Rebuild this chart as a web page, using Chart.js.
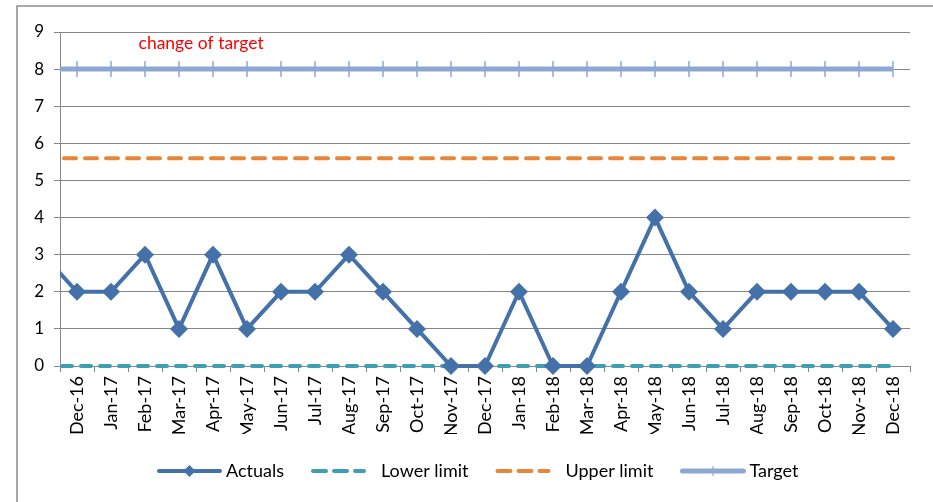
<!DOCTYPE html>
<html>
<head>
<meta charset="utf-8">
<script src="https://cdn.jsdelivr.net/npm/chart.js@4/dist/chart.umd.min.js"></script>
<style>
  html, body { margin: 0; padding: 0; background: #fff; }
  #wrap { width: 933px; height: 502px; position: relative; }
</style>
</head>
<body>
<div id="wrap"><canvas id="chart"></canvas></div>
<script>
// first label (Nov-16) sits just outside the plot, the line runs in from it
const labels = ['Nov-16', 'Dec-16', 'Jan-17', 'Feb-17', 'Mar-17', 'Apr-17', 'May-17', 'Jun-17', 'Jul-17',
  'Aug-17', 'Sep-17', 'Oct-17', 'Nov-17', 'Dec-17', 'Jan-18', 'Feb-18', 'Mar-18', 'Apr-18',
  'May-18', 'Jun-18', 'Jul-18', 'Aug-18', 'Sep-18', 'Oct-18', 'Nov-18', 'Dec-18'];
const actuals = [3, 2, 2, 3, 1, 3, 1, 2, 2, 3, 2, 1, 0, 0, 2, 0, 0, 2, 4, 2, 1, 2, 2, 2, 2, 1];
const lowerLimit = [0, 0, 0, 0, 0, 0, 0, 0, 0, 0, 0, 0, 0, 0, 0, 0, 0, 0, 0, 0, 0, 0, 0, 0, 0, 0];
const upperLimit = [5.6, 5.6, 5.6, 5.6, 5.6, 5.6, 5.6, 5.6, 5.6, 5.6, 5.6, 5.6, 5.6,
  5.6, 5.6, 5.6, 5.6, 5.6, 5.6, 5.6, 5.6, 5.6, 5.6, 5.6, 5.6, 5.6];
const target = [8, 8, 8, 8, 8, 8, 8, 8, 8, 8, 8, 8, 8, 8, 8, 8, 8, 8, 8, 8, 8, 8, 8, 8, 8, 8];
const yTicks = [0, 1, 2, 3, 4, 5, 6, 7, 8, 9];
const noteText = 'change of target';

const FONT = 'Lato, "Liberation Sans", sans-serif';
const GRID = '#868686';

const frame = {
  id: 'frame',
  afterDraw(chart) {
    const ctx = chart.ctx;
    ctx.save();
    ctx.strokeStyle = '#8c8c8c';
    ctx.lineWidth = 1.5;
    ctx.beginPath();
    ctx.moveTo(17, chart.height);
    ctx.lineTo(17, 6);
    ctx.lineTo(chart.width, 6);
    ctx.stroke();
    ctx.restore();
  }
};

const note = {
  id: 'note',
  afterDatasetsDraw(chart) {
    const ctx = chart.ctx;
    const x = chart.scales.x.getPixelForValue(4.65);
    const y = chart.scales.y.getPixelForValue(8.7);
    ctx.save();
    ctx.font = '17.5px ' + FONT;
    ctx.fillStyle = '#ff0000';
    ctx.textAlign = 'center';
    ctx.textBaseline = 'middle';
    ctx.fillText(noteText, x, y);
    ctx.restore();
  }
};

const bottomLegend = {
  id: 'bottomLegend',
  afterDraw(chart) {
    const ctx = chart.ctx;
    const y = 471;
    let x = 157;
    ctx.save();
    ctx.font = '18px ' + FONT;
    ctx.textBaseline = 'middle';
    chart.data.datasets.forEach(ds => {
      const dashed = !!ds.borderDash;
      const w = dashed ? 55 : 65;
      ctx.strokeStyle = ds.borderColor;
      ctx.lineWidth = ds.borderWidth;
      ctx.lineCap = 'round';
      ctx.setLineDash(dashed ? [13, 8] : []);
      ctx.beginPath();
      ctx.moveTo(x + 2, y);
      ctx.lineTo(x + w - 2, y);
      ctx.stroke();
      ctx.setLineDash([]);
      const cx = x + w / 2;
      if (ds.pointStyle === 'rectRot') {
        ctx.fillStyle = ds.borderColor;
        ctx.beginPath();
        ctx.moveTo(cx, y - 6);
        ctx.lineTo(cx + 6, y);
        ctx.lineTo(cx, y + 6);
        ctx.lineTo(cx - 6, y);
        ctx.closePath();
        ctx.fill();
      } else if (ds.pointStyle === 'line') {
        ctx.lineWidth = 1.2;
        ctx.lineCap = 'butt';
        ctx.beginPath();
        ctx.moveTo(cx, y - 5);
        ctx.lineTo(cx, y + 5);
        ctx.stroke();
      }
      ctx.fillStyle = '#000';
      ctx.textAlign = 'left';
      const tx = x + w + (dashed ? 15 : 4);
      ctx.fillText(ds.label, tx, y);
      x = tx + ctx.measureText(ds.label).width + 27;
    });
    ctx.restore();
  }
};

const leftClip = { left: 0, top: false, right: false, bottom: false };

new Chart(document.getElementById('chart'), {
  type: 'line',
  data: {
    labels: labels,
    datasets: [
      {
        label: 'Actuals',
        data: actuals,
        borderColor: '#4471A8',
        backgroundColor: '#4471A8',
        borderWidth: 4,
        pointStyle: 'rectRot',
        pointRadius: 9,
        pointBorderWidth: 0,
        tension: 0,
        clip: leftClip,
        order: 1
      },
      {
        label: 'Lower limit',
        data: lowerLimit,
        borderColor: '#3E9EB4',
        borderWidth: 4,
        borderDash: [10, 9],
        borderCapStyle: 'round',
        pointRadius: 0,
        clip: leftClip,
        order: 2
      },
      {
        label: 'Upper limit',
        data: upperLimit,
        borderColor: '#E6863B',
        borderWidth: 4,
        borderDash: [12, 9],
        borderCapStyle: 'round',
        pointRadius: 0,
        clip: leftClip,
        order: 3
      },
      {
        label: 'Target',
        data: target,
        borderColor: '#8EA8D4',
        backgroundColor: '#8EA8D4',
        borderWidth: 5,
        pointStyle: 'line',
        rotation: 90,
        pointRadius: 8,
        pointBorderWidth: 1.5,
        pointBorderColor: '#8EA8D4',
        clip: leftClip,
        order: 4
      }
    ]
  },
  options: {
    responsive: true,
    maintainAspectRatio: false,
    animation: false,
    events: [],
    layout: { padding: { left: 0, right: 23, top: 32, bottom: 68 } },
    plugins: {
      legend: { display: false },
      tooltip: { enabled: false }
    },
    scales: {
      x: {
        min: 'Dec-16',
        offset: true,
        grid: { display: true, offset: true, drawOnChartArea: false, drawTicks: true, tickLength: 6, color: GRID },
        border: { display: true, color: GRID, width: 1 },
        ticks: {
          autoSkip: false, minRotation: 90, maxRotation: 90, padding: 4,
          color: '#000', font: { family: FONT, size: 18 }
        },
        afterFit(scale) { scale.height = 68; }
      },
      y: {
        min: 0,
        max: 9,
        afterBuildTicks(scale) { scale.ticks = yTicks.map(v => ({ value: v })); },
        grid: { color: GRID, lineWidth: 1, tickLength: 6 },
        border: { display: true, color: GRID, width: 1 },
        ticks: { padding: 10, color: '#000', font: { family: FONT, size: 17 } },
        afterFit(scale) { scale.width = 60; }
      }
    }
  },
  plugins: [frame, note, bottomLegend]
});
</script>
</body>
</html>
